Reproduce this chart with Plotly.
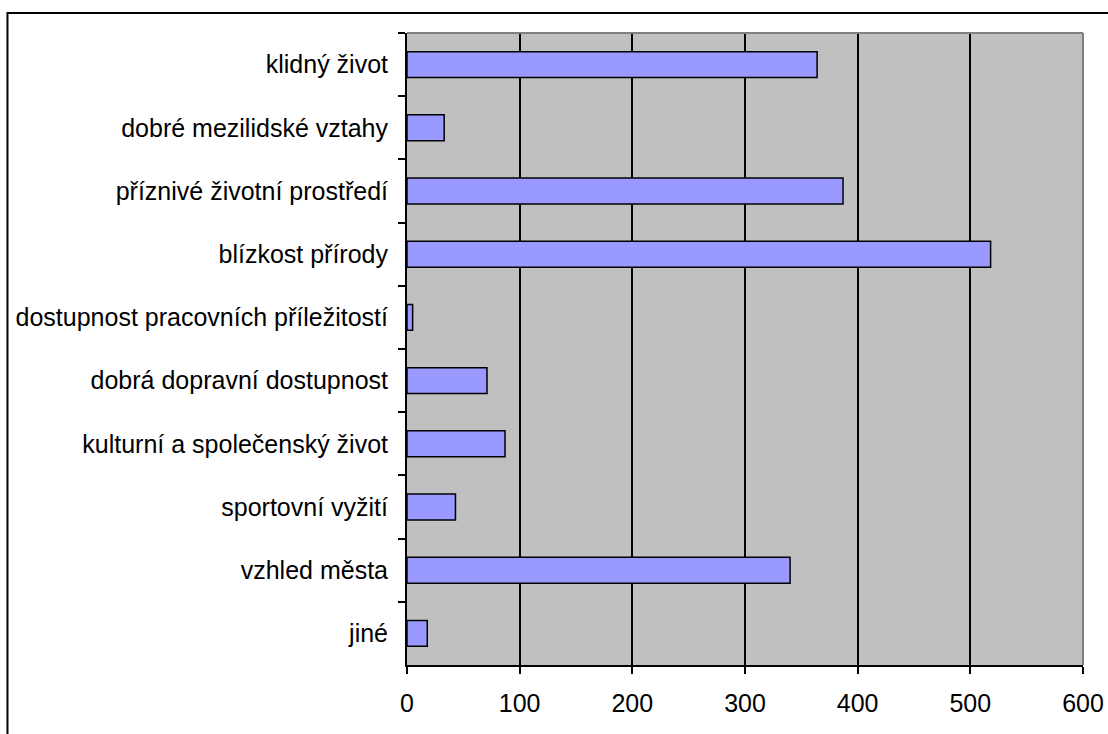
import plotly.graph_objects as go

# Důvody spokojenosti s bydlením ve městě (počet odpovědí)
categories = [
    "klidný život",
    "dobré mezilidské vztahy",
    "příznivé životní prostředí",
    "blízkost přírody",
    "dostupnost pracovních příležitostí",
    "dobrá dopravní dostupnost",
    "kulturní a společenský život",
    "sportovní vyžití",
    "vzhled města",
    "jiné",
]
counts = [364, 33, 387, 518, 5, 71, 87, 43, 340, 18]

x_ticks = [0, 100, 200, 300, 400, 500, 600]

FONT = "Liberation Sans, Arial, sans-serif"

fig = go.Figure(
    go.Bar(
        x=counts,
        y=categories,
        orientation="h",
        marker=dict(color="#9999FF", line=dict(color="black", width=1.5)),
        width=0.41,
    )
)

fig.update_layout(
    width=1108,
    height=734,
    margin=dict(l=407, r=25, t=33, b=69),
    paper_bgcolor="white",
    plot_bgcolor="#C0C0C0",
    showlegend=False,
    font=dict(family=FONT, size=25, color="black"),
    xaxis=dict(
        range=[0, 600],
        tickvals=x_ticks,
        ticktext=[str(v) for v in x_ticks],
        automargin=False,
        showgrid=True,
        gridcolor="black",
        gridwidth=1.5,
        zeroline=False,
        showline=True,
        linecolor="black",
        linewidth=2,
        ticks="outside",
        ticklen=7,
        tickwidth=1.5,
        tickcolor="black",
        ticklabelstandoff=8,
        tickfont=dict(family=FONT, size=25, color="black"),
    ),
    yaxis=dict(
        autorange="reversed",
        automargin=False,
        showgrid=False,
        zeroline=False,
        showline=True,
        linecolor="black",
        linewidth=2,
        ticks="outside",
        tickson="boundaries",
        ticklen=7,
        tickwidth=1.5,
        tickcolor="black",
        ticklabelstandoff=12,
        tickfont=dict(family=FONT, size=25, color="black"),
    ),
    shapes=[
        # grey frame on the top and right edge of the plot area
        dict(type="line", xref="paper", yref="paper", x0=0, x1=1, y0=1, y1=1,
             line=dict(color="#808080", width=2), layer="above"),
        dict(type="line", xref="paper", yref="paper", x0=1, x1=1, y0=0, y1=1,
             line=dict(color="#808080", width=2), layer="above"),
        # outer chart border
        dict(type="rect", xref="paper", yref="paper",
             x0=-0.591, x1=1.06, y0=-0.12, y1=1.0316,
             line=dict(color="black", width=2), layer="above"),
    ],
)

fig.write_html("out.html")
